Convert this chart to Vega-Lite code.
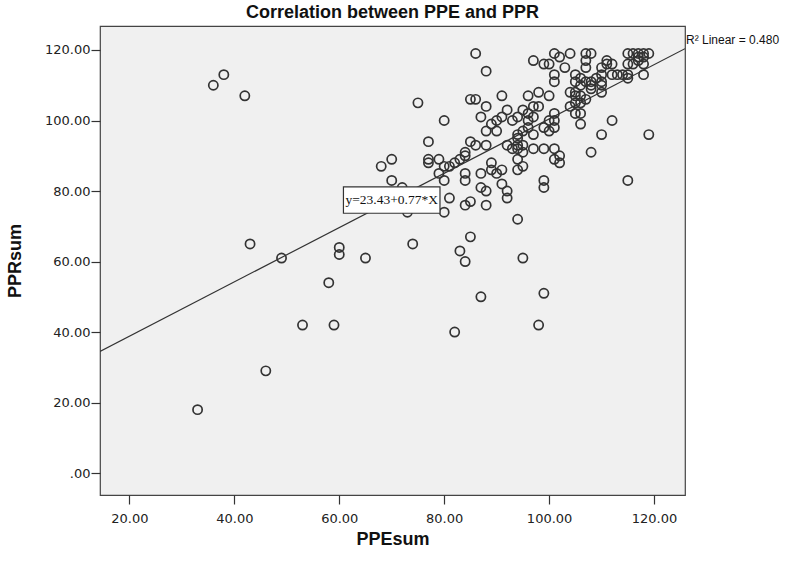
{
  "$schema": "https://vega.github.io/schema/vega-lite/v6.json",
  "width": 585,
  "height": 469,
  "autosize": "none",
  "padding": {"left": 100, "top": 26, "right": 102, "bottom": 70},
  "background": "white",
  "title": {"text": "Correlation between PPE and PPR", "font": "Liberation Sans", "fontSize": 18, "fontWeight": "bold", "color": "#111", "anchor": "middle", "offset": 4},
  "config": {
    "view": {"fill": "#f0f0f0", "stroke": "#444", "strokeWidth": 1.2},
    "axis": {"grid": false, "domain": false, "tickColor": "#333", "tickSize": 9, "tickWidth": 1.2, "labelFont": "DejaVu Sans", "labelFontSize": 13, "labelColor": "#222", "titleFont": "Liberation Sans", "titleFontSize": 18, "titleFontWeight": "bold", "titleColor": "#111"}
  },
  "datasets": {
    "points": [
      {"PPEsum": 33, "PPRsum": 18}, {"PPEsum": 36, "PPRsum": 110}, {"PPEsum": 38, "PPRsum": 113}, {"PPEsum": 42, "PPRsum": 107},
      {"PPEsum": 43, "PPRsum": 65}, {"PPEsum": 46, "PPRsum": 29}, {"PPEsum": 49, "PPRsum": 61}, {"PPEsum": 53, "PPRsum": 42},
      {"PPEsum": 58, "PPRsum": 54}, {"PPEsum": 59, "PPRsum": 42}, {"PPEsum": 60, "PPRsum": 64}, {"PPEsum": 60, "PPRsum": 62},
      {"PPEsum": 65, "PPRsum": 61}, {"PPEsum": 68, "PPRsum": 87}, {"PPEsum": 70, "PPRsum": 89}, {"PPEsum": 70, "PPRsum": 83},
      {"PPEsum": 72, "PPRsum": 81}, {"PPEsum": 73, "PPRsum": 74}, {"PPEsum": 74, "PPRsum": 65}, {"PPEsum": 75, "PPRsum": 105},
      {"PPEsum": 77, "PPRsum": 94}, {"PPEsum": 77, "PPRsum": 88}, {"PPEsum": 77, "PPRsum": 89}, {"PPEsum": 79, "PPRsum": 89},
      {"PPEsum": 79, "PPRsum": 85}, {"PPEsum": 80, "PPRsum": 87}, {"PPEsum": 81, "PPRsum": 87}, {"PPEsum": 82, "PPRsum": 88},
      {"PPEsum": 83, "PPRsum": 89}, {"PPEsum": 84, "PPRsum": 91}, {"PPEsum": 84, "PPRsum": 90}, {"PPEsum": 80, "PPRsum": 100},
      {"PPEsum": 80, "PPRsum": 83}, {"PPEsum": 81, "PPRsum": 78}, {"PPEsum": 80, "PPRsum": 74}, {"PPEsum": 84, "PPRsum": 85},
      {"PPEsum": 84, "PPRsum": 83}, {"PPEsum": 84, "PPRsum": 76}, {"PPEsum": 85, "PPRsum": 77}, {"PPEsum": 87, "PPRsum": 85},
      {"PPEsum": 87, "PPRsum": 81}, {"PPEsum": 88, "PPRsum": 80}, {"PPEsum": 88, "PPRsum": 76}, {"PPEsum": 89, "PPRsum": 88},
      {"PPEsum": 85, "PPRsum": 67}, {"PPEsum": 83, "PPRsum": 63}, {"PPEsum": 84, "PPRsum": 60}, {"PPEsum": 87, "PPRsum": 50},
      {"PPEsum": 82, "PPRsum": 40}, {"PPEsum": 94, "PPRsum": 72}, {"PPEsum": 95, "PPRsum": 61}, {"PPEsum": 99, "PPRsum": 51},
      {"PPEsum": 98, "PPRsum": 42}, {"PPEsum": 91, "PPRsum": 82}, {"PPEsum": 92, "PPRsum": 80}, {"PPEsum": 92, "PPRsum": 78},
      {"PPEsum": 91, "PPRsum": 86}, {"PPEsum": 89, "PPRsum": 86}, {"PPEsum": 90, "PPRsum": 85}, {"PPEsum": 88, "PPRsum": 93},
      {"PPEsum": 86, "PPRsum": 93}, {"PPEsum": 85, "PPRsum": 94}, {"PPEsum": 93, "PPRsum": 92}, {"PPEsum": 92, "PPRsum": 93},
      {"PPEsum": 94, "PPRsum": 92}, {"PPEsum": 94, "PPRsum": 86}, {"PPEsum": 95, "PPRsum": 87}, {"PPEsum": 94, "PPRsum": 89},
      {"PPEsum": 95, "PPRsum": 91}, {"PPEsum": 97, "PPRsum": 92}, {"PPEsum": 99, "PPRsum": 92}, {"PPEsum": 101, "PPRsum": 92},
      {"PPEsum": 102, "PPRsum": 90}, {"PPEsum": 102, "PPRsum": 88}, {"PPEsum": 101, "PPRsum": 89}, {"PPEsum": 86, "PPRsum": 119},
      {"PPEsum": 88, "PPRsum": 114}, {"PPEsum": 85, "PPRsum": 106}, {"PPEsum": 86, "PPRsum": 106}, {"PPEsum": 88, "PPRsum": 104},
      {"PPEsum": 91, "PPRsum": 107}, {"PPEsum": 87, "PPRsum": 101}, {"PPEsum": 89, "PPRsum": 99}, {"PPEsum": 90, "PPRsum": 100},
      {"PPEsum": 91, "PPRsum": 101}, {"PPEsum": 88, "PPRsum": 97}, {"PPEsum": 90, "PPRsum": 97}, {"PPEsum": 92, "PPRsum": 103},
      {"PPEsum": 93, "PPRsum": 100}, {"PPEsum": 94, "PPRsum": 101}, {"PPEsum": 95, "PPRsum": 103}, {"PPEsum": 96, "PPRsum": 102},
      {"PPEsum": 96, "PPRsum": 100}, {"PPEsum": 96, "PPRsum": 98}, {"PPEsum": 95, "PPRsum": 97}, {"PPEsum": 97, "PPRsum": 101},
      {"PPEsum": 97, "PPRsum": 104}, {"PPEsum": 98, "PPRsum": 104}, {"PPEsum": 94, "PPRsum": 96}, {"PPEsum": 94, "PPRsum": 95},
      {"PPEsum": 95, "PPRsum": 93}, {"PPEsum": 94, "PPRsum": 93}, {"PPEsum": 97, "PPRsum": 96}, {"PPEsum": 100, "PPRsum": 97},
      {"PPEsum": 99, "PPRsum": 98}, {"PPEsum": 101, "PPRsum": 98}, {"PPEsum": 100, "PPRsum": 100}, {"PPEsum": 101, "PPRsum": 100},
      {"PPEsum": 101, "PPRsum": 102}, {"PPEsum": 96, "PPRsum": 107}, {"PPEsum": 98, "PPRsum": 108}, {"PPEsum": 100, "PPRsum": 107},
      {"PPEsum": 101, "PPRsum": 113}, {"PPEsum": 101, "PPRsum": 111}, {"PPEsum": 97, "PPRsum": 117}, {"PPEsum": 99, "PPRsum": 116},
      {"PPEsum": 100, "PPRsum": 116}, {"PPEsum": 101, "PPRsum": 119}, {"PPEsum": 102, "PPRsum": 118}, {"PPEsum": 104, "PPRsum": 119},
      {"PPEsum": 103, "PPRsum": 115}, {"PPEsum": 107, "PPRsum": 119}, {"PPEsum": 108, "PPRsum": 119}, {"PPEsum": 107, "PPRsum": 117},
      {"PPEsum": 107, "PPRsum": 115}, {"PPEsum": 110, "PPRsum": 115}, {"PPEsum": 111, "PPRsum": 117}, {"PPEsum": 111, "PPRsum": 116},
      {"PPEsum": 112, "PPRsum": 116}, {"PPEsum": 115, "PPRsum": 119}, {"PPEsum": 116, "PPRsum": 119}, {"PPEsum": 117, "PPRsum": 119},
      {"PPEsum": 118, "PPRsum": 119}, {"PPEsum": 119, "PPRsum": 119}, {"PPEsum": 117, "PPRsum": 118}, {"PPEsum": 118, "PPRsum": 118},
      {"PPEsum": 117, "PPRsum": 117}, {"PPEsum": 115, "PPRsum": 116}, {"PPEsum": 116, "PPRsum": 116}, {"PPEsum": 118, "PPRsum": 116},
      {"PPEsum": 118, "PPRsum": 113}, {"PPEsum": 115, "PPRsum": 113}, {"PPEsum": 112, "PPRsum": 113}, {"PPEsum": 113, "PPRsum": 113},
      {"PPEsum": 114, "PPRsum": 113}, {"PPEsum": 115, "PPRsum": 112}, {"PPEsum": 110, "PPRsum": 113}, {"PPEsum": 109, "PPRsum": 112},
      {"PPEsum": 108, "PPRsum": 111}, {"PPEsum": 107, "PPRsum": 111}, {"PPEsum": 106, "PPRsum": 112}, {"PPEsum": 105, "PPRsum": 113},
      {"PPEsum": 105, "PPRsum": 111}, {"PPEsum": 106, "PPRsum": 110}, {"PPEsum": 108, "PPRsum": 110}, {"PPEsum": 110, "PPRsum": 110},
      {"PPEsum": 110, "PPRsum": 111}, {"PPEsum": 105, "PPRsum": 108}, {"PPEsum": 104, "PPRsum": 108}, {"PPEsum": 105, "PPRsum": 107},
      {"PPEsum": 106, "PPRsum": 107}, {"PPEsum": 107, "PPRsum": 106}, {"PPEsum": 106, "PPRsum": 105}, {"PPEsum": 105, "PPRsum": 105},
      {"PPEsum": 104, "PPRsum": 104}, {"PPEsum": 105, "PPRsum": 102}, {"PPEsum": 106, "PPRsum": 102}, {"PPEsum": 106, "PPRsum": 99},
      {"PPEsum": 108, "PPRsum": 109}, {"PPEsum": 110, "PPRsum": 108}, {"PPEsum": 112, "PPRsum": 100}, {"PPEsum": 110, "PPRsum": 96},
      {"PPEsum": 119, "PPRsum": 96}, {"PPEsum": 108, "PPRsum": 91}, {"PPEsum": 115, "PPRsum": 83}, {"PPEsum": 99, "PPRsum": 83},
      {"PPEsum": 99, "PPRsum": 81}
    ],
    "fit": [{"PPEsum": 14.4, "PPRsum": 34.52}, {"PPEsum": 125.9, "PPRsum": 120.37}]
  },
  "layer": [
    {
      "data": {"name": "points"},
      "mark": {"type": "point", "shape": "circle", "filled": false, "stroke": "#333", "strokeWidth": 1.7, "size": 85, "opacity": 1},
      "encoding": {
        "x": {"field": "PPEsum", "type": "quantitative", "scale": {"domain": [14.4, 125.9], "nice": false, "zero": false},
              "axis": {"values": [20, 40, 60, 80, 100, 120], "format": ".2f", "labelPadding": 8, "title": "PPEsum", "titlePadding": 5}},
        "y": {"field": "PPRsum", "type": "quantitative", "scale": {"domain": [-6.2, 126.8], "nice": false, "zero": false},
              "axis": {"values": [0, 20, 40, 60, 80, 100, 120], "labelExpr": "datum.value === 0 ? '.00' : format(datum.value, '.2f')", "labelPadding": 1, "title": "PPRsum", "titlePadding": 20}}
      }
    },
    {
      "data": {"name": "fit"},
      "mark": {"type": "line", "stroke": "#333", "strokeWidth": 1.2, "clip": true},
      "encoding": {
        "x": {"field": "PPEsum", "type": "quantitative"},
        "y": {"field": "PPRsum", "type": "quantitative"}
      }
    },
    {
      "data": {"values": [{}]},
      "mark": {"type": "rect", "fill": "white", "stroke": "#333", "strokeWidth": 1.2},
      "encoding": {
        "x": {"datum": 60.8, "type": "quantitative"},
        "x2": {"datum": 79.2},
        "y": {"datum": 73.7, "type": "quantitative"},
        "y2": {"datum": 81.2}
      }
    },
    {
      "data": {"values": [{}]},
      "mark": {"type": "text", "text": "y=23.43+0.77*X", "font": "Liberation Serif", "fontSize": 13.5, "color": "#111", "align": "center", "baseline": "middle"},
      "encoding": {
        "x": {"datum": 70.0, "type": "quantitative"},
        "y": {"datum": 77.4, "type": "quantitative"}
      }
    },
    {
      "data": {"values": [{}]},
      "mark": {"type": "text", "text": "R² Linear = 0.480", "font": "Liberation Sans", "fontSize": 12, "color": "#111", "align": "left", "baseline": "middle", "dx": 1},
      "encoding": {
        "x": {"datum": 125.9, "type": "quantitative"},
        "y": {"datum": 122.8, "type": "quantitative"}
      }
    }
  ]
}
